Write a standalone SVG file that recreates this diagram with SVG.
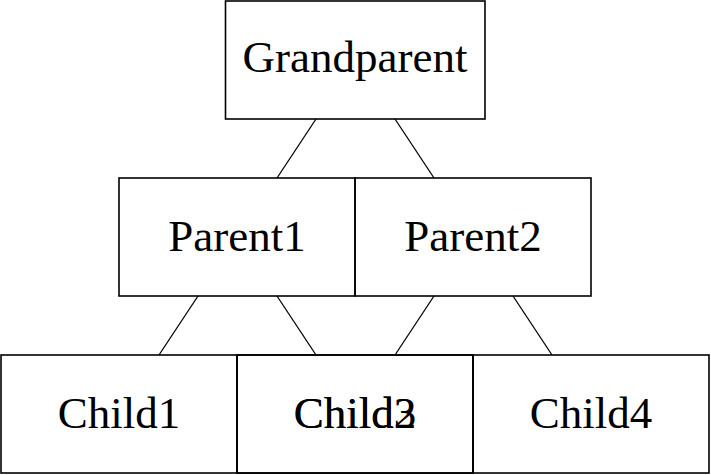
<svg xmlns="http://www.w3.org/2000/svg" width="711" height="475" viewBox="0 0 711 475">
<style>
.box{fill:none;stroke:#000;stroke-width:1.6}
text{font-family:"Liberation Serif","Times New Roman",serif;font-size:45px;fill:#000;text-anchor:middle}
line{stroke:#000;stroke-width:1.3}
</style>
<rect x="0" y="0" width="711" height="475" fill="#fff"/>
<g id="connectors">
<line x1="316" y1="119" x2="277" y2="178"/>
<line x1="395" y1="119" x2="434" y2="178"/>
<line x1="198" y1="296" x2="159" y2="355"/>
<line x1="277" y1="296" x2="316" y2="355"/>
<line x1="434" y1="296" x2="395" y2="355"/>
<line x1="513" y1="296" x2="552" y2="355"/>
</g>
<g id="grandparent"><rect class="box" x="225.5" y="1" width="259.5" height="118"/><text x="355" y="72">Grandparent</text></g>
<g id="parent1"><rect class="box" x="119" y="178" width="236" height="118"/><text x="237" y="251">Parent1</text></g>
<g id="parent2"><rect class="box" x="355" y="178" width="236" height="118"/><text x="473" y="251">Parent2</text></g>
<g id="child1"><rect class="box" x="1" y="355" width="236" height="118"/><text x="119" y="428">Child1</text></g>
<g id="child2"><rect class="box" x="237" y="355" width="236" height="118"/><text x="355" y="428">Child2</text></g>
<g id="child3"><rect class="box" x="237" y="355" width="236" height="118"/><text x="355" y="428">Child3</text></g>
<g id="child4"><rect class="box" x="473" y="355" width="236" height="118"/><text x="591" y="428">Child4</text></g>
</svg>
